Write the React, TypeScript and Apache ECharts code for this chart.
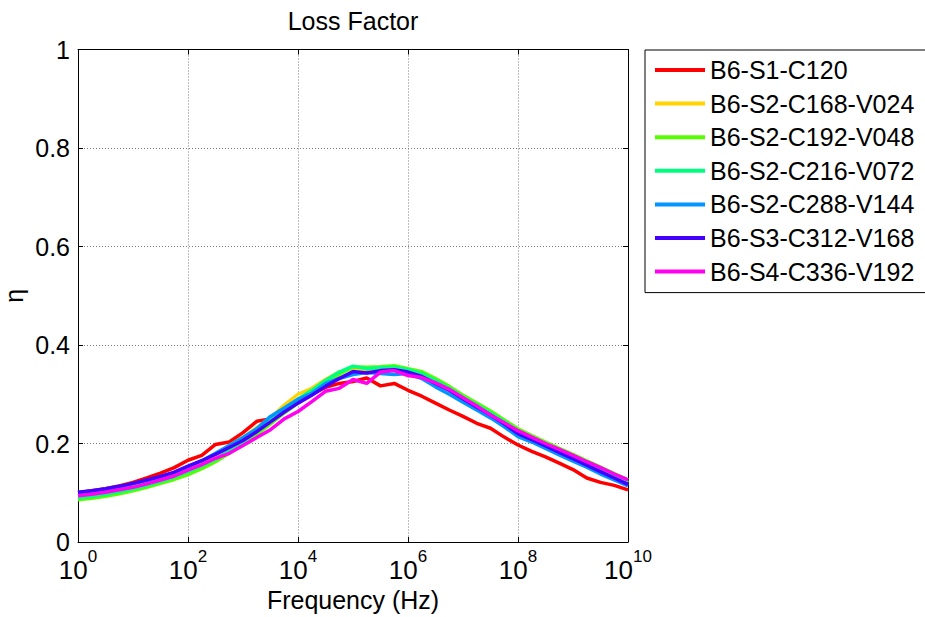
import React, { useEffect, useRef } from "react";
import * as echarts from "echarts";

// log10(frequency in Hz)
const freqExp = [
  0, 0.25, 0.5, 0.75, 1, 1.25, 1.5, 1.75, 2, 2.25, 2.5, 2.75, 3, 3.25, 3.5, 3.75, 4,
  4.25, 4.5, 4.75, 5, 5.25, 5.5, 5.75, 6, 6.25, 6.5, 6.75, 7, 7.25, 7.5, 7.75, 8,
  8.25, 8.5, 8.75, 9, 9.25, 9.5, 9.75, 10,
];

const xTicks = [0, 2, 4, 6, 8, 10];
const yTicks = [0, 0.2, 0.4, 0.6, 0.8, 1];

const seriesNames = [
  "B6-S1-C120",
  "B6-S2-C168-V024",
  "B6-S2-C192-V048",
  "B6-S2-C216-V072",
  "B6-S2-C288-V144",
  "B6-S3-C312-V168",
  "B6-S4-C336-V192",
];

const seriesColors = ["#FF0000", "#FFD400", "#55FF00", "#00FF80", "#0096FF", "#4400FF", "#FF00F0"];

const etaS1C120 = [0.100,0.104,0.108,0.114,0.121,0.130,0.140,0.151,0.166,0.176,0.198,0.203,0.222,0.245,0.250,0.270,0.288,0.300,0.314,0.322,0.326,0.333,0.317,0.322,0.308,0.296,0.282,0.268,0.255,0.241,0.231,0.213,0.197,0.184,0.173,0.160,0.147,0.130,0.121,0.115,0.106];
const etaS2C168 = [0.097,0.100,0.104,0.109,0.115,0.122,0.129,0.138,0.150,0.163,0.178,0.196,0.212,0.232,0.252,0.278,0.300,0.312,0.330,0.345,0.352,0.350,0.351,0.350,0.345,0.338,0.324,0.310,0.293,0.277,0.260,0.243,0.225,0.212,0.199,0.186,0.173,0.160,0.147,0.134,0.121];
const etaS2C192 = [0.086,0.089,0.093,0.098,0.104,0.111,0.119,0.127,0.137,0.149,0.163,0.180,0.198,0.218,0.240,0.262,0.282,0.305,0.322,0.340,0.356,0.355,0.356,0.358,0.352,0.346,0.332,0.316,0.298,0.282,0.266,0.248,0.230,0.216,0.203,0.190,0.178,0.165,0.152,0.139,0.126];
const etaS2C216 = [0.090,0.093,0.097,0.102,0.108,0.115,0.123,0.132,0.143,0.155,0.168,0.186,0.204,0.224,0.246,0.268,0.290,0.308,0.328,0.345,0.357,0.352,0.354,0.355,0.350,0.342,0.328,0.312,0.294,0.278,0.262,0.244,0.226,0.212,0.199,0.186,0.173,0.160,0.147,0.134,0.120];
const etaS2C288 = [0.100,0.103,0.107,0.112,0.118,0.125,0.132,0.141,0.153,0.165,0.180,0.196,0.212,0.230,0.255,0.272,0.290,0.302,0.322,0.332,0.340,0.344,0.342,0.340,0.342,0.332,0.315,0.300,0.284,0.268,0.252,0.234,0.214,0.203,0.190,0.177,0.164,0.152,0.138,0.126,0.114];
const etaS3C312 = [0.101,0.104,0.108,0.113,0.119,0.126,0.133,0.142,0.154,0.165,0.178,0.192,0.206,0.224,0.244,0.264,0.282,0.298,0.316,0.332,0.346,0.343,0.348,0.350,0.345,0.336,0.322,0.308,0.291,0.274,0.258,0.240,0.220,0.208,0.195,0.182,0.169,0.156,0.143,0.130,0.117];
const etaS4C336 = [0.094,0.097,0.101,0.106,0.111,0.118,0.126,0.134,0.146,0.157,0.170,0.180,0.196,0.212,0.228,0.250,0.265,0.285,0.306,0.312,0.330,0.322,0.345,0.348,0.338,0.334,0.323,0.310,0.293,0.276,0.258,0.242,0.226,0.213,0.200,0.188,0.176,0.163,0.151,0.138,0.126];

const allEta = [etaS1C120, etaS2C168, etaS2C192, etaS2C216, etaS2C288, etaS3C312, etaS4C336];

const FONT = "'Liberation Sans', Arial, Helvetica, sans-serif";

export default function App() {
  const ref = useRef<HTMLDivElement>(null);
  useEffect(() => {
    if (!ref.current) return;
    const chart = echarts.init(ref.current, null, { renderer: "svg" });
    const gridLine = { show: true, lineStyle: { color: "#7a7a7a", type: [1, 2] as any, width: 1 } };
    const axisLineBlack = { show: true, onZero: false, lineStyle: { color: "#000", width: 1 } };
    const tickInside = { show: true, inside: true, length: 5, lineStyle: { color: "#000" } };
    chart.setOption({
      animation: false,
      backgroundColor: "#fff",
      textStyle: { fontFamily: FONT },
      graphic: [
        {
          type: "text",
          x: 353,
          y: 21,
          style: {
            text: "Loss Factor",
            fontFamily: FONT,
            fontSize: 25,
            fill: "#000",
            textAlign: "center",
            textVerticalAlign: "middle",
          },
        },
      ],
      grid: { left: 78, top: 49.5, right: 297, bottom: 75, show: false, containLabel: false, outerBoundsMode: "none" },
      legend: {
        orient: "vertical",
        left: 645,
        top: 50,
        icon: "rect",
        itemWidth: 50,
        itemHeight: 4,
        itemGap: 7.6,
        padding: [7, 60, 8, 10],
        borderColor: "#000",
        borderWidth: 1,
        backgroundColor: "#fff",
        textStyle: { fontFamily: FONT, fontSize: 25, color: "#000", lineHeight: 26 },
        data: seriesNames,
      },
      xAxis: [
        {
          type: "value",
          min: 0,
          max: 10,
          interval: 2,
          position: "bottom",
          axisLine: axisLineBlack,
          axisTick: tickInside,
          splitLine: gridLine,
          name: "Frequency (Hz)",
          nameLocation: "middle",
          nameGap: 45,
          nameMoveOverlap: false,
          nameTextStyle: { fontFamily: FONT, fontSize: 25, color: "#000" },
          axisLabel: {
            margin: 6,
            formatter: (v: number) => (xTicks.includes(v) ? `{b|10}{e|${v}}` : ""),
            rich: {
              b: { fontFamily: FONT, fontSize: 26, color: "#000", lineHeight: 35, verticalAlign: "bottom" },
              e: { fontFamily: FONT, fontSize: 17, color: "#000", lineHeight: 17, verticalAlign: "top" },
            },
          },
        },
        {
          type: "value",
          min: 0,
          max: 10,
          interval: 2,
          position: "top",
          axisLine: axisLineBlack,
          axisTick: tickInside,
          splitLine: { show: false },
          axisLabel: { show: false },
        },
      ],
      yAxis: [
        {
          type: "value",
          min: 0,
          max: 1,
          interval: 0.2,
          position: "left",
          axisLine: axisLineBlack,
          axisTick: tickInside,
          splitLine: gridLine,
          name: "η",
          nameLocation: "middle",
          nameGap: 52,
          nameMoveOverlap: false,
          nameTextStyle: { fontFamily: FONT, fontSize: 25, color: "#000" },
          axisLabel: {
            margin: 8,
            fontFamily: FONT,
            fontSize: 25,
            color: "#000",
            formatter: (v: number) => (yTicks.includes(Math.round(v * 10) / 10) ? String(Math.round(v * 10) / 10) : ""),
          },
        },
        {
          type: "value",
          min: 0,
          max: 1,
          interval: 0.2,
          position: "right",
          axisLine: axisLineBlack,
          axisTick: tickInside,
          splitLine: { show: false },
          axisLabel: { show: false },
        },
      ],
      series: seriesNames.map((name, i) => ({
        name,
        type: "line",
        xAxisIndex: 0,
        yAxisIndex: 0,
        showSymbol: false,
        symbol: "none",
        smooth: false,
        color: seriesColors[i],
        lineStyle: { color: seriesColors[i], width: 3.5 },
        data: freqExp.map((e, k) => [e, allEta[i][k]]),
        z: 2 + i,
      })),
    });
    return () => chart.dispose();
  }, []);
  return <div ref={ref} style={{ width: 925, height: 617, position: "absolute", left: 0, top: 0 }} />;
}
